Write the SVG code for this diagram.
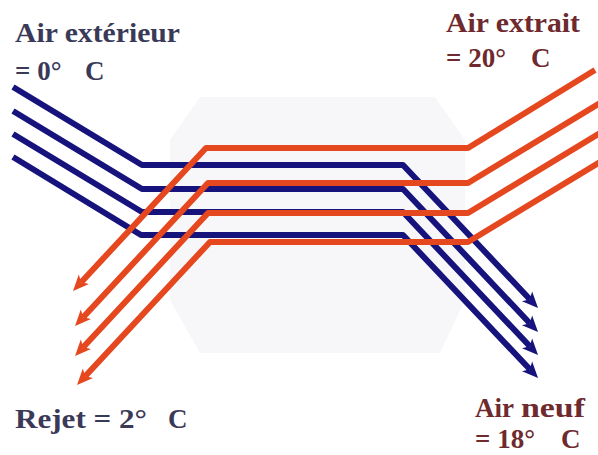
<svg xmlns="http://www.w3.org/2000/svg" width="598" height="455" viewBox="0 0 598 455">
  <style>
    .lbl { font-family: "Liberation Serif", "Times New Roman", serif; font-weight: bold; font-size: 27px; }
    .cold { fill: #3a3a58; }
    .warm { fill: #6e2a2e; }
    .blue { fill: none; stroke: #16137c; stroke-width: 6; stroke-linejoin: round; }
    .red { fill: none; stroke: #e5471f; stroke-width: 6; stroke-linejoin: round; }
  </style>
  <defs>
    <marker id="ab" markerUnits="userSpaceOnUse" viewBox="0 0 16 16" markerWidth="16" markerHeight="16" refX="4" refY="8" orient="auto">
      <path d="M0,1 L16,8 L0,15 L4,8 z" fill="#16137c"/>
    </marker>
    <marker id="ar" markerUnits="userSpaceOnUse" viewBox="0 0 16 16" markerWidth="16" markerHeight="16" refX="4" refY="8" orient="auto">
      <path d="M0,1 L16,8 L0,15 L4,8 z" fill="#e5471f"/>
    </marker>
  </defs>
  <rect width="598" height="455" fill="#ffffff"/>
  <g id="exchanger">
    <polygon points="200,97 435,97 465,140 465,300 440,353 200,353 170,300 170,140" fill="#f7f7f9"/>
  </g>
  <g id="connectors">
    <g id="outdoor-air">
      <path class="blue" marker-end="url(#ab)" d="M13,87 L142,165 L403,165 L529.8,299.3"/>
      <path class="blue" marker-end="url(#ab)" d="M13,111 L142,189 L403,189 L529.8,323.3"/>
      <path class="blue" marker-end="url(#ab)" d="M13,134 L142,212 L403,212 L529.8,346.3"/>
      <path class="blue" marker-end="url(#ab)" d="M13,157 L141,235 L403,235 L529.8,369.3"/>
    </g>
    <g id="extract-air">
      <path class="red" marker-end="url(#ar)" d="M595,70 L468,148 L206,148 L81.2,282.2"/>
      <path class="red" marker-end="url(#ar)" d="M600,103 L468,183 L208,183 L83.2,317.2"/>
      <path class="red" marker-end="url(#ar)" d="M600,133 L468,213 L208,213 L83.2,347.2"/>
      <path class="red" marker-end="url(#ar)" d="M600,162 L468,242 L210,242 L85.2,376.2"/>
    </g>
  </g>
  <g id="label-air-exterieur">
    <text class="lbl cold" x="15" y="42" textLength="165" lengthAdjust="spacingAndGlyphs">Air extérieur</text>
    <text class="lbl cold" y="80"><tspan x="15">= 0°</tspan><tspan x="85">C</tspan></text>
  </g>
  <g id="label-air-extrait">
    <text class="lbl warm" x="446" y="32" textLength="134" lengthAdjust="spacingAndGlyphs">Air extrait</text>
    <text class="lbl warm" y="67"><tspan x="446">= 20°</tspan><tspan x="531">C</tspan></text>
  </g>
  <g id="label-rejet">
    <text class="lbl cold" y="428"><tspan x="15" textLength="132" lengthAdjust="spacingAndGlyphs">Rejet  = 2°</tspan><tspan x="168">C</tspan></text>
  </g>
  <g id="label-air-neuf">
    <text class="lbl warm" y="417"><tspan x="475">Air</tspan><tspan x="521" textLength="64" lengthAdjust="spacingAndGlyphs">neuf</tspan></text>
    <text class="lbl warm" y="448"><tspan x="475">= 18°</tspan><tspan x="561">C</tspan></text>
  </g>
</svg>
